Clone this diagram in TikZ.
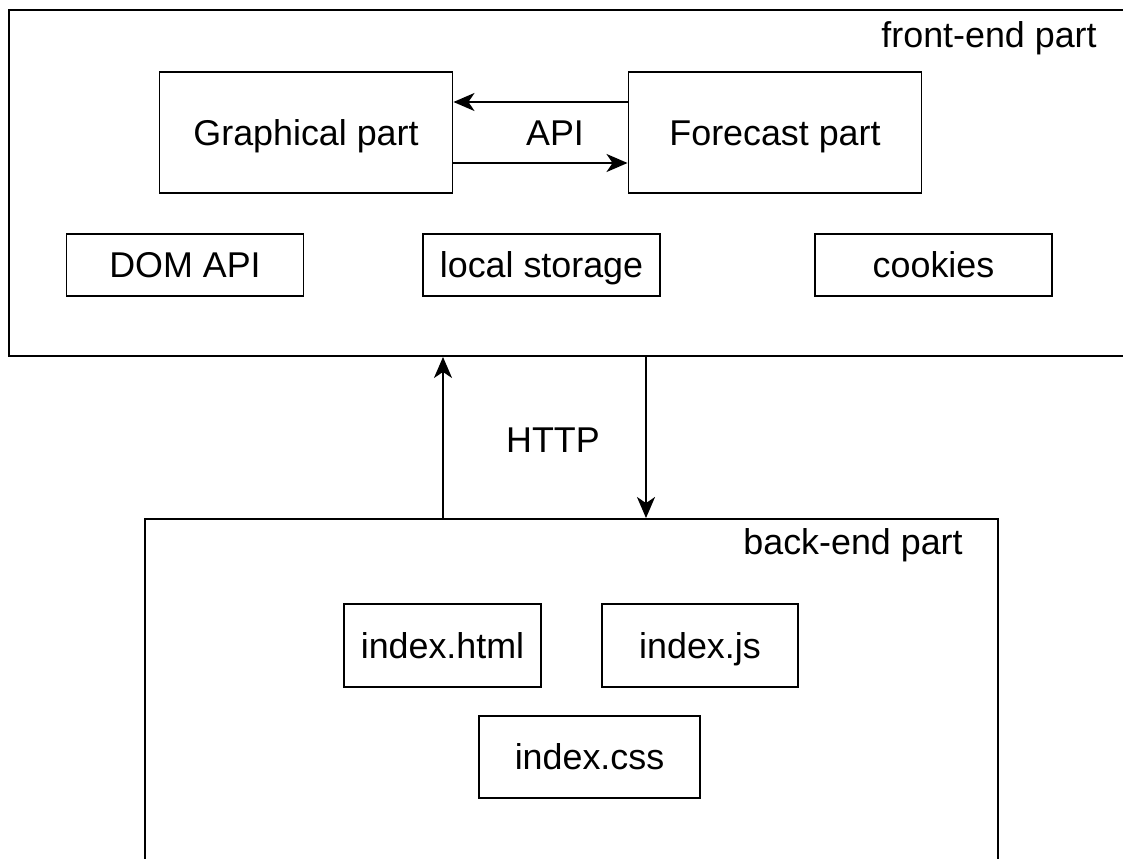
\documentclass[tikz,border=0pt]{standalone}
\usepackage{fontspec}
\setmainfont{Liberation Sans}
\usepackage{tikz}
\usetikzlibrary{arrows.meta, positioning}

\begin{document}
\begin{tikzpicture}[
    box/.style={draw, line width=1.1pt, inner sep=0pt, text height=14.6pt, text depth=0pt,
        font=\fontsize{20.4}{24}\selectfont},
    part/.style={box, minimum width=5.86cm, minimum height=2.42cm},
    item/.style={box, minimum width=4.74cm, minimum height=1.24cm},
    file/.style={box, minimum height=1.66cm},
    label/.style={font=\fontsize{20.4}{24}\selectfont, inner sep=0pt, text height=14.6pt, text depth=0pt},
    arrow/.style={line width=1.1pt, -{Stealth[length=0.42cm, width=0.36cm, inset=0.12cm]}}
]
    \useasboundingbox (0,0) rectangle (22.46,17.16);
    \clip (0,0) rectangle (22.46,17.16);

    % Front-end
    \node[box, minimum width=22.82cm, minimum height=6.92cm] (frontend) at (11.59,13.5) {};
    \node[label, anchor=east] (frontlabel) at (21.94,16.46) {front-end part};
    \node[part] (graphical) at (6.12,14.51) {Graphical part};
    \node[part] (forecast) at (15.5,14.51) {Forecast part};
    \node[label] (api) at (11.1,14.51) {API};
    \node[item] (dom) at (3.70,11.86) {DOM API};
    \node[item] (storage) at (10.83,11.86) {local storage};
    \node[item] (cookies) at (18.67,11.86) {cookies};

    \draw[arrow] ([yshift=0.61cm]forecast.west) -- ([yshift=0.61cm]graphical.east);
    \draw[arrow] ([yshift=-0.61cm]graphical.east) -- ([yshift=-0.61cm]forecast.west);

    % Back-end
    \node[box, minimum width=17.06cm, minimum height=7.28cm] (backend) at (11.43,3.14) {};
    \node[label, anchor=east] (backlabel) at (19.26,6.32) {back-end part};
    \node[file, minimum width=3.94cm] (html) at (8.85,4.25) {index.html};
    \node[file, minimum width=3.92cm] (js) at (14.0,4.25) {index.js};
    \node[file, minimum width=4.42cm, minimum height=1.64cm] (css) at (11.79,2.02) {index.css};

    % HTTP
    \coordinate (upx) at (8.86,0);
    \coordinate (downx) at (12.92,0);
    \draw[arrow] (backend.north -| upx) -- (frontend.south -| upx);
    \draw[arrow] (frontend.south -| downx) -- (backend.north -| downx);
    \node[label] (http) at (11.06,8.36) {HTTP};
\end{tikzpicture}
\end{document}
